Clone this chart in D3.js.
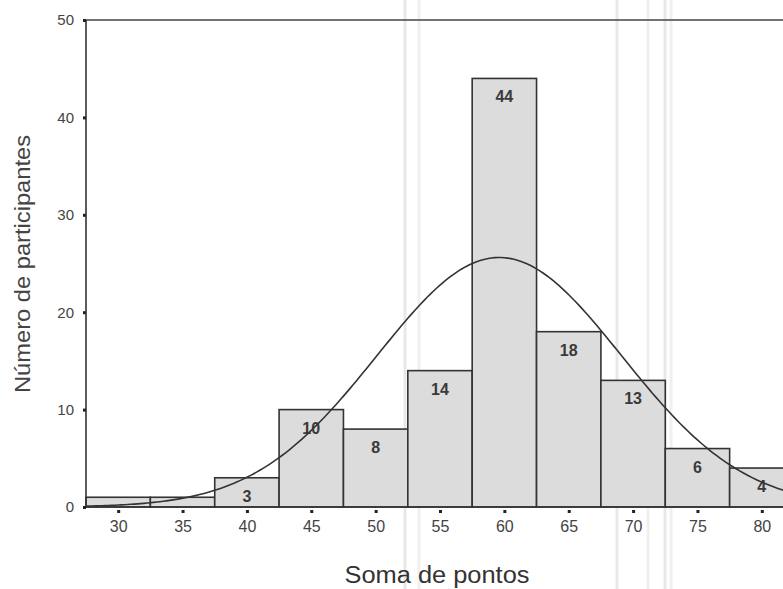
<!DOCTYPE html>
<html>
<head>
<meta charset="utf-8">
<script src="https://cdn.jsdelivr.net/npm/d3@7"></script>
<style>
  body { margin: 0; background: #fff; }
  text { font-family: "Liberation Sans", Arial, sans-serif; }
</style>
</head>
<body>
<div class="chart"></div>
<script>
// bin centres and counts
const bins = [30, 35, 40, 45, 50, 55, 60, 65, 70, 75, 80];
const counts = [1, 1, 3, 10, 8, 14, 44, 18, 13, 6, 4];
const shownLabels = [null, null, 3, 10, 8, 14, 44, 18, 13, 6, 4];
const xTicks = [30, 35, 40, 45, 50, 55, 60, 65, 70, 75, 80];
const yTicks = [0, 10, 20, 30, 40, 50];
// fitted normal curve parameters
const mean = 59.6;
const sd = 9.5;
const binWidth = 5;

const W = 783, H = 589;
const margin = {top: 20, left: 86, bottom: 82};
const plotRight = 794;

const svg = d3.select(".chart")
    .append("svg")
        .attr("width", W)
        .attr("height", H);

const x = d3.scaleLinear()
    .domain([27.5, 82.5])
    .range([margin.left, plotRight]);

const y = d3.scaleLinear()
    .domain([0, 50])
    .range([H - margin.bottom, margin.top]);

// faint scan streaks
[405, 419, 617, 648, 665, 671].forEach((sx, i) => {
    svg.append("line")
        .attr("x1", sx).attr("x2", sx)
        .attr("y1", 0).attr("y2", H)
        .attr("stroke", "#ccc")
        .attr("stroke-opacity", i % 2 ? 0.3 : 0.45)
        .attr("stroke-width", 3);
});

// bars
svg.selectAll("rect.bar")
    .data(bins)
    .enter()
    .append("rect")
        .attr("class", "bar")
        .attr("x", d => x(d - binWidth / 2))
        .attr("width", d => x(d + binWidth / 2) - x(d - binWidth / 2))
        .attr("y", (d, i) => y(counts[i]))
        .attr("height", (d, i) => y(0) - y(counts[i]))
        .attr("fill", "#dcdcdc")
        .attr("stroke", "#333")
        .attr("stroke-width", 1.6);

// bar labels
svg.selectAll("text.lbl")
    .data(bins)
    .enter()
    .filter((d, i) => shownLabels[i] !== null)
    .append("text")
        .attr("class", "lbl")
        .attr("x", d => x(d))
        .attr("y", d => y(counts[bins.indexOf(d)]) + 24)
        .attr("text-anchor", "middle")
        .style("font-size", "16px")
        .style("font-weight", "bold")
        .style("fill", "#3a3a3a")
        .text(d => shownLabels[bins.indexOf(d)]);

// normal curve
const n = d3.sum(counts);
const curveX = d3.range(27.5, 82.6, 0.25);
const pdf = v => n * binWidth * Math.exp(-0.5 * ((v - mean) / sd) ** 2) / (sd * Math.sqrt(2 * Math.PI));
svg.append("path")
    .datum(curveX)
    .attr("fill", "none")
    .attr("stroke", "#333")
    .attr("stroke-width", 1.6)
    .attr("d", d3.line().x(d => x(d)).y(d => y(pdf(d))));

// frame: top and left, plus baseline
svg.append("line")
    .attr("x1", x(27.5)).attr("x2", W)
    .attr("y1", y(50)).attr("y2", y(50))
    .attr("stroke", "#444").attr("stroke-width", 1.6);
svg.append("line")
    .attr("x1", x(27.5)).attr("x2", x(27.5))
    .attr("y1", y(50)).attr("y2", y(0))
    .attr("stroke", "#333").attr("stroke-width", 1.6);
svg.append("line")
    .attr("x1", x(27.5)).attr("x2", W)
    .attr("y1", y(0)).attr("y2", y(0))
    .attr("stroke", "#333").attr("stroke-width", 1.6);

// y axis
const yAxis = svg.append("g")
    .attr("transform", `translate(${x(27.5)},0)`)
    .call(d3.axisLeft(y).tickValues(yTicks).tickSize(3).tickPadding(9));
yAxis.select(".domain").remove();
yAxis.selectAll(".tick line").attr("stroke", "#222").attr("stroke-width", 3);
yAxis.selectAll("text").style("font-size", "15px").style("fill", "#444")
    .style("font-family", "Liberation Sans, Arial, sans-serif");

// x axis
const xAxis = svg.append("g")
    .attr("transform", `translate(0,${y(0) + 3})`)
    .call(d3.axisBottom(x).tickValues(xTicks).tickSize(3).tickPadding(8));
xAxis.select(".domain").remove();
xAxis.selectAll(".tick line").attr("stroke", "#222").attr("stroke-width", 3);
xAxis.selectAll("text").style("font-size", "16px").style("fill", "#444")
    .style("font-family", "Liberation Sans, Arial, sans-serif");

// axis titles
svg.append("text")
    .attr("transform", "rotate(-90)")
    .attr("x", -264)
    .attr("y", 30)
    .attr("text-anchor", "middle")
    .attr("textLength", 258)
    .attr("lengthAdjust", "spacingAndGlyphs")
    .style("font-size", "22px")
    .style("fill", "#444")
    .text("Número de participantes");

svg.append("text")
    .attr("x", 437)
    .attr("y", 583)
    .attr("text-anchor", "middle")
    .attr("textLength", 185)
    .attr("lengthAdjust", "spacingAndGlyphs")
    .style("font-size", "23px")
    .style("fill", "#333")
    .text("Soma de pontos");
</script>
</body>
</html>
